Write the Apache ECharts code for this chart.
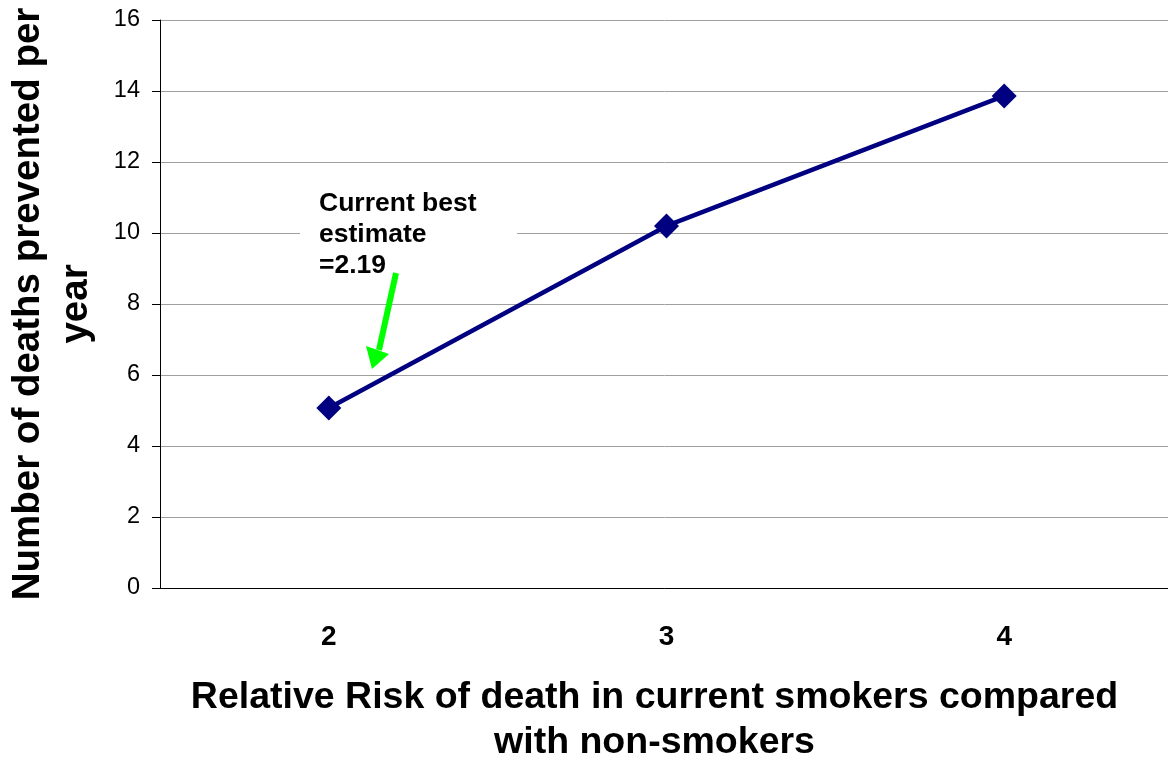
<!DOCTYPE html>
<html>
<head>
<meta charset="utf-8">
<script src="https://cdn.jsdelivr.net/npm/echarts@6/dist/echarts.min.js"></script>
<style>
  html, body { margin: 0; padding: 0; background: #fff; }
  #chart { width: 1168px; height: 767px; }
</style>
</head>
<body>
<div id="chart"></div>
<script>
// relative risk categories and deaths prevented per year
const riskLabels = ['2', '3', '4'];
const deathsPrevented = [5.07, 10.2, 13.86];
const yTicks = {min: 0, max: 16, step: 2};

const font = "'Liberation Sans', Arial, sans-serif";
const chart = echarts.init(document.getElementById('chart'));

chart.setOption({
    animation: false,
    backgroundColor: '#fff',
    grid: {left: 160, top: 20, width: 1013, bottom: 179, outerBoundsMode: 'none', containLabel: false},
    xAxis: {
        type: 'category',
        data: riskLabels,
        boundaryGap: true,
        axisLine: {lineStyle: {color: '#000', width: 1}},
        axisTick: {show: false},
        axisLabel: {
            margin: 35,
            color: '#000',
            fontFamily: font,
            fontWeight: 'bold',
            fontSize: 28,
        },
        name: 'Relative Risk of death in current smokers compared\nwith non-smokers',
        nameLocation: 'middle',
        nameGap: 87,
        nameTextStyle: {
            color: '#000',
            fontFamily: font,
            fontWeight: 'bold',
            fontSize: 37.5,
            lineHeight: 45,
            padding: [0, 24, 0, 0],
        },
    },
    yAxis: {
        type: 'value',
        min: yTicks.min,
        max: yTicks.max,
        interval: yTicks.step,
        axisLine: {show: true, lineStyle: {color: '#000', width: 1}},
        axisTick: {show: true, length: 8, lineStyle: {color: '#000'}},
        axisLabel: {
            margin: 20,
            color: '#000',
            fontFamily: font,
            fontSize: 23.5,
        },
        splitLine: {lineStyle: {color: '#a0a0a0', width: 1}},
        name: 'Number of deaths prevented per\nyear',
        nameLocation: 'middle',
        nameRotate: 90,
        nameGap: 60,
        nameTextStyle: {
            color: '#000',
            fontFamily: font,
            fontWeight: 'bold',
            fontSize: 38.5,
            lineHeight: 48,
        },
    },
    series: [
        {
            name: 'deathsPrevented',
            type: 'line',
            data: deathsPrevented,
            symbol: 'diamond',
            symbolSize: 25,
            lineStyle: {color: '#000080', width: 4.5},
            itemStyle: {color: '#000080'},
        },
    ],
    graphic: [
        {
            type: 'rect',
            shape: {x: 300, y: 182, width: 217, height: 100},
            style: {fill: '#fff'},
            z: 10,
        },
        {
            type: 'text',
            left: 319,
            top: 188,
            style: {
                text: 'Current best\nestimate\n=2.19',
                fill: '#000',
                font: 'bold 26.5px ' + font,
                lineHeight: 31,
            },
            z: 11,
        },
        {
            type: 'line',
            shape: {x1: 396, y1: 273, x2: 379, y2: 350},
            style: {stroke: '#00ff00', lineWidth: 6},
            z: 11,
        },
        {
            type: 'polygon',
            shape: {points: [[372, 369], [366, 346], [389, 354]]},
            style: {fill: '#00ff00'},
            z: 11,
        },
    ],
});
</script>
</body>
</html>
